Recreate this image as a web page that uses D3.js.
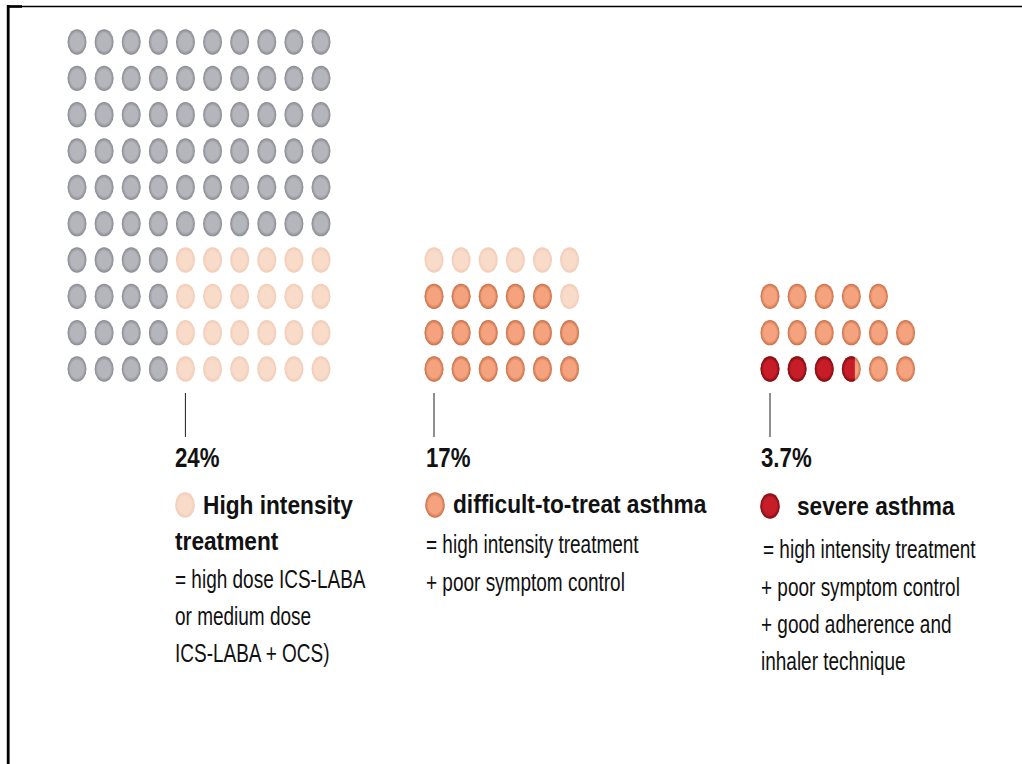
<!DOCTYPE html>
<html>
<head>
<meta charset="utf-8">
<script src="https://cdn.jsdelivr.net/npm/d3@7"></script>
<style>
  html, body { margin: 0; padding: 0; background: #fff; }
  svg { display: block; }
</style>
</head>
<body>
<svg id="chart" width="1022" height="764"></svg>
<script>
// Asthma severity funnel: share of all treated patients per category
const categories = ["High intensity treatment", "difficult-to-treat asthma", "severe asthma"];
const shares = [24, 17, 3.7];
const shareLabels = ["24%", "17%", "3.7%"];
const totalPatients = 100;
const gridColumns = [10, 6, 6];          // dots per row in each panel
const headingLines = [["High intensity", "treatment"], ["difficult-to-treat asthma"], ["severe asthma"]];
const definitionLines = [
  ["= high dose ICS-LABA", "or medium dose", "ICS-LABA + OCS)"],
  ["= high intensity treatment", "+ poor symptom control"],
  ["= high intensity treatment", "+ poor symptom control", "+ good adherence and", "inhaler technique"]
];

// level 0 = all patients, 1..3 = categories above
const levelFill = ["#b4b6bc", "#f9dbc9", "#f4a37e", "#c61d28"];
const levelRim  = ["#878990", "#f0cbb6", "#c96d45", "#7c0910"];

const svg = d3.select("#chart");
const W = 1022, H = 764;

// frame
svg.append("line").attr("x1", 7).attr("x2", W).attr("y1", 6.5).attr("y2", 6.5)
  .attr("stroke", "#000").attr("stroke-width", 1.6);
svg.append("line").attr("x1", 8.2).attr("x2", 8.2).attr("y1", 5).attr("y2", H)
  .attr("stroke", "#000").attr("stroke-width", 2.8);
svg.append("rect").attr("x", 7).attr("y", 5.2).attr("width", 15).attr("height", 2.6).attr("fill", "#000");

// gradients for the dot look (flat centre, darker rim)
const defs = svg.append("defs");
levelFill.forEach((f, i) => {
  const g = defs.append("radialGradient").attr("id", "dot" + i)
    .attr("cx", "50%").attr("cy", "50%").attr("r", "50%");
  g.append("stop").attr("offset", "0%").attr("stop-color", f);
  g.append("stop").attr("offset", "68%").attr("stop-color", f);
  g.append("stop").attr("offset", "100%").attr("stop-color", levelRim[i]);
});

// scales: column / row index -> pixel
const rows = 10;
const x = d3.scaleLinear().domain([0, 9]).range([77, 321]);
const y = d3.scaleLinear().domain([0, rows - 1]).range([42, 369]);
const panelShift = [0, 357, 693];
const RX = 9.5, RY = 12.7;

// build dots for every panel
const dots = [];
// panel 0: all patients, high-intensity block in the bottom-right corner
const blockCols = gridColumns[1];
const blockRows = shares[0] / blockCols;
for (let i = 0; i < totalPatients; i++) {
  const r = Math.floor(i / gridColumns[0]), c = i % gridColumns[0];
  const hi = c >= gridColumns[0] - blockCols && r >= rows - blockRows;
  dots.push({ panel: 0, row: r, col: c, base: 0, level: hi ? 1 : 0, frac: 1 });
}
// panels 1 and 2: previous category's patients, filled from the bottom-left
[1, 2].forEach(p => {
  const n = Math.round(shares[p - 1]);
  const inner = shares[p];
  for (let i = 0; i < n; i++) {
    const r = rows - 1 - Math.floor(i / gridColumns[p]);
    const c = i % gridColumns[p];
    const frac = Math.max(0, Math.min(1, inner - i));
    dots.push({ panel: p, row: r, col: c, base: p, level: p + 1, frac });
  }
});

const dotLayer = svg.append("g");
dots.forEach((d, i) => {
  const cx = x(d.col) + panelShift[d.panel];
  const cy = y(d.row);
  if (d.panel === 0) {
    dotLayer.append("ellipse").attr("cx", cx).attr("cy", cy).attr("rx", RX).attr("ry", RY)
      .attr("fill", `url(#dot${d.level})`);
    return;
  }
  // base colour, then the inner category painted over the covered fraction
  dotLayer.append("ellipse").attr("cx", cx).attr("cy", cy).attr("rx", RX).attr("ry", RY)
    .attr("fill", `url(#dot${d.base})`);
  if (d.frac > 0) {
    const id = "clip" + i;
    defs.append("clipPath").attr("id", id).append("rect")
      .attr("x", cx - RX - 1).attr("y", cy - RY - 1)
      .attr("width", (2 * RX + 1) * d.frac + (d.frac === 1 ? 2 : 0)).attr("height", 2 * RY + 2);
    dotLayer.append("ellipse").attr("cx", cx).attr("cy", cy).attr("rx", RX).attr("ry", RY)
      .attr("fill", `url(#dot${d.level})`).attr("clip-path", `url(#${id})`);
  }
});

// text helper: condensed sans via horizontal scaling
function label(g, tx, ty, str, size, weight, sx) {
  g.append("text")
    .attr("transform", `translate(${tx},${ty}) scale(${sx},1)`)
    .attr("font-family", "'Liberation Sans', Arial, sans-serif")
    .attr("font-size", size).attr("font-weight", weight)
    .attr("fill", "#111").text(str);
}

const textX = [175, 426, 761];
const firstHighlightCol = [gridColumns[0] - blockCols, 0, 0];
const legendY = [505, 505, 506];
const headingX = [[203, 175], [453], [797]];
const headingY = [[514, 550], [513], [515]];
const defX = [[175, 175, 175], [426, 426], [763, 761, 761, 761]];
const defY = [[588, 625, 662], [553, 591], [558, 596, 633, 670]];

const textLayer = svg.append("g");
categories.forEach((cat, p) => {
  const lx = x(firstHighlightCol[p]) + panelShift[p];
  textLayer.append("line").attr("x1", lx).attr("x2", lx).attr("y1", 393).attr("y2", 437)
    .attr("stroke", "#333").attr("stroke-width", 1.1);
  label(textLayer, textX[p], 467, shareLabels[p], 28.5, "bold", 0.78);
  textLayer.append("ellipse").attr("cx", textX[p] + (p === 0 ? 10 : 9)).attr("cy", legendY[p])
    .attr("rx", RX + 0.3).attr("ry", RY)
    .attr("fill", `url(#dot${p + 1})`);
  headingLines[p].forEach((t, k) => label(textLayer, headingX[p][k], headingY[p][k], t, 25.5, "bold", 0.89));
  definitionLines[p].forEach((t, k) => label(textLayer, defX[p][k], defY[p][k], t, 25.5, "normal", 0.745));
});
</script>
</body>
</html>
